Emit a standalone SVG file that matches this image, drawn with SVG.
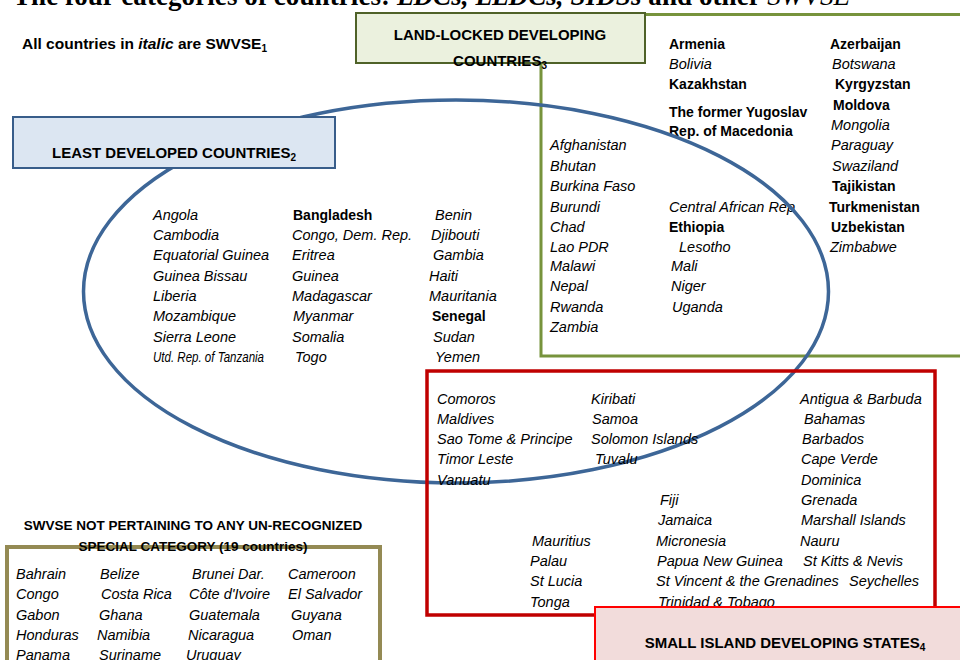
<svg xmlns="http://www.w3.org/2000/svg" width="960" height="660" viewBox="0 0 960 660">
<style>
text{font-family:"Liberation Sans",Arial,sans-serif;fill:#000}
.i{font-style:italic;font-size:14.5px}
.b{font-weight:bold;font-size:14px}
.h{font-weight:bold;font-size:15px}
.sub{font-size:10px}
.title{font-family:"Liberation Serif","Times New Roman",serif;font-weight:bold;font-size:27px}
</style>
<rect width="960" height="660" fill="#fff"/>
<g id="title">
<text class="title" x="13" y="5" textLength="837" lengthAdjust="spacing">The four categories of countries: <tspan font-style="italic">LDCs, LLDCs, SIDSs</tspan> and other <tspan font-style="italic" font-weight="normal">SWVSE</tspan></text>
</g>
<g id="note">
<text x="22" y="49" font-weight="bold" font-size="15.5px">All countries in <tspan font-style="italic">italic</tspan> are SWVSE<tspan class="sub" dy="3">1</tspan></text>
</g>
<g id="lldc">
<path d="M645 14.5H960M541 64V356H960" fill="none" stroke="#77933c" stroke-width="3"/>
<rect x="356" y="13" width="289" height="50" fill="#ebf1de" stroke="#4f6228" stroke-width="2"/>
<text class="h" x="500" y="40" text-anchor="middle">LAND-LOCKED DEVELOPING</text>
<text class="h" x="500" y="66" text-anchor="middle">COUNTRIES<tspan class="sub" dy="3">3</tspan></text>
<text class="b" x="669" y="49">Armenia</text>
<text class="i" x="669" y="69">Bolivia</text>
<text class="b" x="669" y="89">Kazakhstan</text>
<text class="b" x="669" y="117" font-size="13.5px">The former Yugoslav</text>
<text class="b" x="669" y="136" font-size="13.5px">Rep. of Macedonia</text>
<text class="b" x="830" y="49">Azerbaijan</text>
<text class="i" x="832" y="69">Botswana</text>
<text class="b" x="835" y="89">Kyrgyzstan</text>
<text class="b" x="833" y="110">Moldova</text>
<text class="i" x="831" y="130">Mongolia</text>
<text class="i" x="831" y="150">Paraguay</text>
<text class="i" x="832" y="171">Swaziland</text>
<text class="b" x="832" y="191">Tajikistan</text>
<text class="b" x="829" y="212">Turkmenistan</text>
<text class="b" x="831" y="232">Uzbekistan</text>
<text class="i" x="830" y="252">Zimbabwe</text>
<text class="i" x="550" y="150">Afghanistan</text>
<text class="i" x="550" y="171">Bhutan</text>
<text class="i" x="550" y="191">Burkina Faso</text>
<text class="i" x="550" y="212">Burundi</text>
<text class="i" x="550" y="232">Chad</text>
<text class="i" x="550" y="252">Lao PDR</text>
<text class="i" x="550" y="271">Malawi</text>
<text class="i" x="550" y="291">Nepal</text>
<text class="i" x="550" y="312">Rwanda</text>
<text class="i" x="550" y="332">Zambia</text>
<text class="i" x="669" y="212">Central African Rep</text>
<text class="b" x="669" y="232">Ethiopia</text>
<text class="i" x="679" y="252">Lesotho</text>
<text class="i" x="671" y="271">Mali</text>
<text class="i" x="671" y="291">Niger</text>
<text class="i" x="672" y="312">Uganda</text>
</g>
<g id="ldc">
<ellipse cx="456" cy="291.5" rx="372.5" ry="191.5" fill="none" stroke="#3d6697" stroke-width="3.5"/>
<rect x="13" y="117" width="322" height="51" fill="#dce6f2" stroke="#385d8a" stroke-width="2"/>
<text class="h" x="174" y="158" text-anchor="middle">LEAST DEVELOPED COUNTRIES<tspan class="sub" dy="3">2</tspan></text>
<text class="i" x="153" y="220">Angola</text>
<text class="i" x="153" y="240">Cambodia</text>
<text class="i" x="153" y="260">Equatorial Guinea</text>
<text class="i" x="153" y="281">Guinea Bissau</text>
<text class="i" x="153" y="301">Liberia</text>
<text class="i" x="153" y="321">Mozambique</text>
<text class="i" x="153" y="342">Sierra Leone</text>
<text class="i" x="153" y="362" font-size="12px" textLength="111" lengthAdjust="spacingAndGlyphs">Utd. Rep. of Tanzania</text>
<text class="b" x="293" y="220">Bangladesh</text>
<text class="i" x="292" y="240">Congo, Dem. Rep.</text>
<text class="i" x="292" y="260">Eritrea</text>
<text class="i" x="292" y="281">Guinea</text>
<text class="i" x="292" y="301">Madagascar</text>
<text class="i" x="293" y="321">Myanmar</text>
<text class="i" x="292" y="342">Somalia</text>
<text class="i" x="295" y="362">Togo</text>
<text class="i" x="435" y="220">Benin</text>
<text class="i" x="431" y="240">Djibouti</text>
<text class="i" x="433" y="260">Gambia</text>
<text class="i" x="429" y="281">Haiti</text>
<text class="i" x="429" y="301">Mauritania</text>
<text class="b" x="432" y="321">Senegal</text>
<text class="i" x="433" y="342">Sudan</text>
<text class="i" x="435" y="362">Yemen</text>
</g>
<g id="sids">
<rect x="427" y="371" width="508" height="244" fill="none" stroke="#c00000" stroke-width="3.5"/>
<text class="i" x="437" y="404">Comoros</text>
<text class="i" x="437" y="424">Maldives</text>
<text class="i" x="437" y="444">Sao Tome &amp; Principe</text>
<text class="i" x="437" y="464">Timor Leste</text>
<text class="i" x="437" y="485">Vanuatu</text>
<text class="i" x="591" y="404">Kiribati</text>
<text class="i" x="592" y="424">Samoa</text>
<text class="i" x="591" y="444">Solomon Islands</text>
<text class="i" x="595" y="464">Tuvalu</text>
<text class="i" x="800" y="404">Antigua &amp; Barbuda</text>
<text class="i" x="804" y="424">Bahamas</text>
<text class="i" x="802" y="444">Barbados</text>
<text class="i" x="801" y="464">Cape Verde</text>
<text class="i" x="801" y="485">Dominica</text>
<text class="i" x="801" y="505">Grenada</text>
<text class="i" x="801" y="525">Marshall Islands</text>
<text class="i" x="800" y="546">Nauru</text>
<text class="i" x="803" y="566">St Kitts &amp; Nevis</text>
<text class="i" x="849" y="586">Seychelles</text>
<text class="i" x="660" y="505">Fiji</text>
<text class="i" x="658" y="525">Jamaica</text>
<text class="i" x="656" y="546">Micronesia</text>
<text class="i" x="657" y="566">Papua New Guinea</text>
<text class="i" x="656" y="586">St Vincent &amp; the Grenadines</text>
<text class="i" x="658" y="607">Trinidad &amp; Tobago</text>
<text class="i" x="532" y="546">Mauritius</text>
<text class="i" x="530" y="566">Palau</text>
<text class="i" x="530" y="586">St Lucia</text>
<text class="i" x="530" y="607">Tonga</text>
<rect x="595" y="607" width="375" height="60" fill="#f2dcdb" stroke="#ff0000" stroke-width="2"/>
<text class="h" x="785" y="648" text-anchor="middle">SMALL ISLAND DEVELOPING STATES<tspan class="sub" dy="3">4</tspan></text>
</g>
<g id="other">
<rect x="7" y="547" width="373" height="130" fill="none" stroke="#948a54" stroke-width="4"/>
<text x="193" y="530" text-anchor="middle" font-weight="bold" font-size="13.5px">SWVSE NOT PERTAINING TO ANY UN-RECOGNIZED</text>
<text x="193" y="551" text-anchor="middle" font-weight="bold" font-size="13.5px">SPECIAL CATEGORY (19 countries)</text>
<text class="i" x="16" y="579">Bahrain</text>
<text class="i" x="16" y="599">Congo</text>
<text class="i" x="16" y="620">Gabon</text>
<text class="i" x="16" y="640">Honduras</text>
<text class="i" x="16" y="660">Panama</text>
<text class="i" x="100" y="579">Belize</text>
<text class="i" x="101" y="599">Costa Rica</text>
<text class="i" x="99" y="620">Ghana</text>
<text class="i" x="97" y="640">Namibia</text>
<text class="i" x="99" y="660">Suriname</text>
<text class="i" x="192" y="579">Brunei Dar.</text>
<text class="i" x="189" y="599">Côte d'Ivoire</text>
<text class="i" x="189" y="620">Guatemala</text>
<text class="i" x="188" y="640">Nicaragua</text>
<text class="i" x="186" y="660">Uruguay</text>
<text class="i" x="288" y="579">Cameroon</text>
<text class="i" x="288" y="599">El Salvador</text>
<text class="i" x="291" y="620">Guyana</text>
<text class="i" x="292" y="640">Oman</text>
</g>
</svg>
